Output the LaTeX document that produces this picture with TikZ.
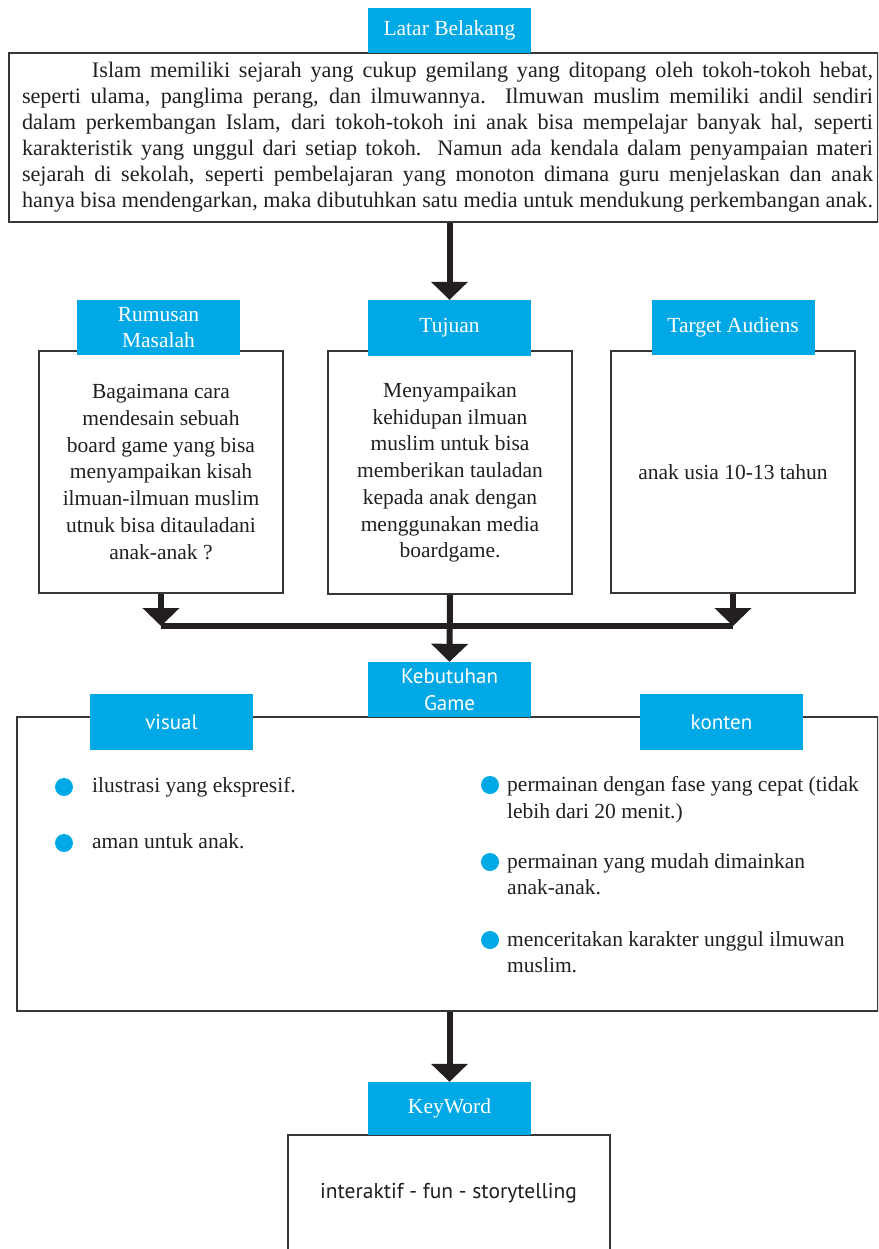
\documentclass[tikz,border=0pt]{standalone}
\usepackage{fontspec}
\setmainfont{Liberation Serif}
\newfontfamily\labsans{PT Sans}
\usetikzlibrary{arrows.meta}
\definecolor{lblue}{RGB}{0,169,229}
\definecolor{ink}{RGB}{35,31,32}
\definecolor{frame}{RGB}{55,55,55}
\newlength\lastw
\AtBeginDocument{%
\settowidth{\lastw}{\fontsize{20pt}{26pt}\selectfont hanya bisa mendengarkan, maka dibutuhkan satu media untuk mendukung perkembangan anak.}%
\pgfmathsetmacro\topfs{min(23,851/\lastw*20)}%
\global\let\topfs\topfs}
\begin{document}
\begin{tikzpicture}[x=1pt,y=-1pt,
  lab/.style={fill=lblue, text=white, minimum width=163pt, inner sep=0pt, align=center,
    font=\fontsize{21.5pt}{26pt}\selectfont},
  sanslab/.style={lab, font=\labsans\fontsize{21pt}{27pt}\selectfont},
  frm/.style={draw=frame, line width=2pt, fill=white, inner sep=0pt},
  body/.style={text=ink, inner sep=0pt, font=\fontsize{21.5pt}{26.7pt}\selectfont},
  arr/.style={draw=ink, line width=6pt, -{Triangle[width=36pt,length=18pt]}},
  barline/.style={draw=ink, line width=6pt, line cap=square},
  dot/.style={circle, fill=lblue, minimum size=18pt, inner sep=0pt},
]
\useasboundingbox (0,0) rectangle (878,1249);
\clip (0,0) rectangle (878,1249);
\fill[white] (0,0) rectangle (878,1249);

% ---- top box
\node[frm, minimum width=869pt, minimum height=169pt] (bg) at (443.5,137.5) {};
\node[text=ink, inner sep=0pt, font=\fontsize{\topfs pt}{26pt}\selectfont] (bgtext) at (447.5,137.5) {\vbox{%
\hbox to 851pt{\hspace*{70pt}Islam memiliki sejarah yang cukup gemilang yang ditopang oleh tokoh-tokoh hebat,}
\hbox to 851pt{seperti ulama, panglima perang, dan ilmuwannya. Ilmuwan muslim memiliki andil sendiri}
\hbox to 851pt{dalam perkembangan Islam, dari tokoh-tokoh ini anak bisa mempelajar banyak hal, seperti}
\hbox to 851pt{karakteristik yang unggul dari setiap tokoh. Namun ada kendala dalam penyampaian materi}
\hbox to 851pt{sejarah di sekolah, seperti pembelajaran yang monoton dimana guru menjelaskan dan anak}
\hbox to 851pt{hanya bisa mendengarkan, maka dibutuhkan satu media untuk mendukung perkembangan anak.}}};
\node[lab, minimum height=45pt] (latar) at (449.5,30.5) {Latar Belakang};

% ---- three boxes
\node[frm, body, minimum width=244pt, minimum height=242pt, align=center] (rum) at (161,472)
  {Bagaimana cara\\mendesain sebuah\\board game yang bisa\\menyampaikan kisah\\ilmuan-ilmuan muslim\\utnuk bisa ditauladani\\anak-anak ?};
\node[frm, body, minimum width=244pt, minimum height=243pt, align=center] (tuj) at (450,472.5)
  {Menyampaikan\\kehidupan ilmuan\\muslim untuk bisa\\memberikan tauladan\\kepada anak dengan\\menggunakan media\\boardgame.};
\node[frm, body, minimum width=244pt, minimum height=242pt, align=center] (tar) at (733,472)
  {anak usia 10-13 tahun};
\node[lab, minimum height=55pt] (rumlab) at (158.5,327.5) {Rumusan\\Masalah};
\node[lab, minimum height=56pt] (tujlab) at (449.5,328) {Tujuan};
\node[lab, minimum height=55pt] (tarlab) at (733,327.5) {Target Audiens};

% ---- big box
\node[frm, minimum width=861pt, minimum height=294pt] (keb) at (447.5,864) {};
\node[sanslab, minimum height=55pt] (keblab) at (449.5,689.5) {Kebutuhan\\Game};
\node[sanslab, minimum height=56pt] (vislab) at (171.5,722) {visual};
\node[sanslab, minimum height=56pt] (konlab) at (721.5,722) {konten};

\node[dot] (d1) at (64,787) {};
\node[body, anchor=base west] (t1) at (92,792) {ilustrasi yang ekspresif.};
\node[dot] (d2) at (64,843) {};
\node[body, anchor=base west] (t2) at (92,848) {aman untuk anak.};
\node[dot] (d3) at (490,785) {};
\node[body, anchor=north west, align=left] (t3) at (507,776) {permainan dengan fase yang cepat (tidak\\lebih dari 20 menit.)};
\node[dot] (d4) at (490,862) {};
\node[body, anchor=north west, align=left] (t4) at (507,853) {permainan yang mudah dimainkan\\anak-anak.};
\node[dot] (d5) at (490,940) {};
\node[body, anchor=north west, align=left] (t5) at (507,931) {menceritakan karakter unggul ilmuwan\\muslim.};

% ---- keyword box
\node[frm, minimum width=322pt, minimum height=140pt] (kw) at (449,1205) {};
\node[text=ink, inner sep=0pt, font=\labsans\fontsize{21.5pt}{26pt}\selectfont] (kwtext) at (448.5,1193) {interaktif - fun - storytelling};
\node[lab, minimum height=53pt] (kwlab) at (449.5,1108.5) {KeyWord};

% ---- connectors
\coordinate (barL) at (161,626);
\coordinate (barR) at (733,626);
\draw[arr] (bg.south -| tujlab.north) -- (tujlab.north);
\draw[barline] (barL) -- (barR);
\draw[arr] (rum.south) -- (barL);
\draw[arr] (tar.south) -- (barR);
\draw[arr] (tuj.south) -- (keblab.north);
\draw[arr] (keb.south -| kwlab.north) -- (kwlab.north);
\end{tikzpicture}
\end{document}
